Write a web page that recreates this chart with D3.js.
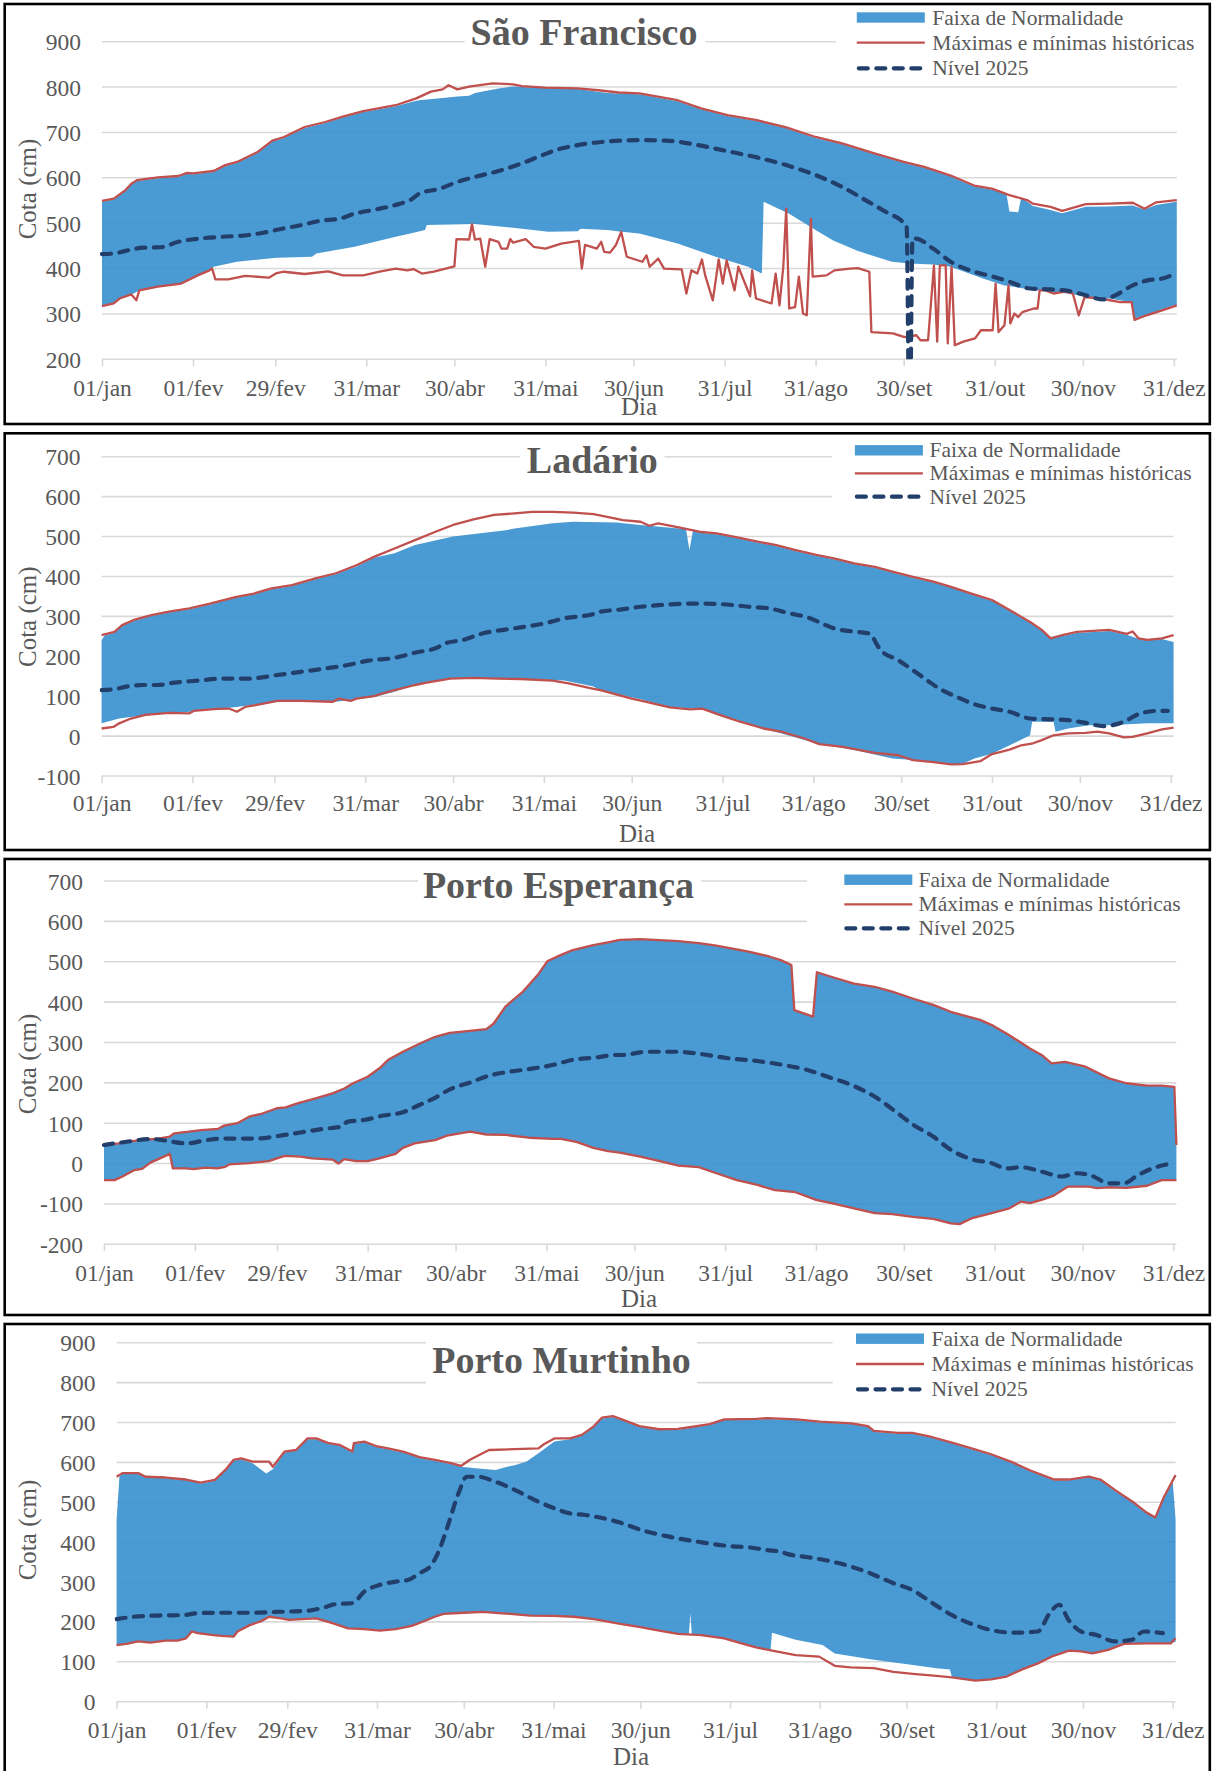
<!DOCTYPE html>
<html><head><meta charset="utf-8">
<script src="https://cdn.jsdelivr.net/npm/d3@7"></script>
<style>
body{margin:0;background:#fff}
svg{display:block}
text{font-family:"Liberation Serif","Times New Roman",serif}
</style>
</head><body>
<svg id="c" width="1213" height="1771"></svg>
<script>
// ---------- labels ----------
const xTickDays = [0,31,59,90,120,151,181,212,243,273,304,334,365];
const xTickLabels = ["01/jan","01/fev","29/fev","31/mar","30/abr","31/mai","30/jun","31/jul","31/ago","30/set","31/out","30/nov","31/dez"];
const stationNames = ["São Francisco","Ladário","Porto Esperança","Porto Murtinho"];
const legendLabels = ["Faixa de Normalidade","Máximas e mínimas históricas","Nível 2025"];
const yTitle = "Cota (cm)";
const xTitle = "Dia";
const yTicksSF = [200,300,400,500,600,700,800,900];
const yTicksLAD = [-100,0,100,200,300,400,500,600,700];
const yTicksPE = [-200,-100,0,100,200,300,400,500,600,700];
const yTicksPM = [0,100,200,300,400,500,600,700,800,900];

// ---------- São Francisco ([day, cm]) ----------
const sfMax = [[0,549],[4,554],[8,573],[10,587],[12,595],[19,601],[26,604],[29,611],[31,610],[38,615],[42,628],[46,635],[53,657],[58,682],[62,690],[69,712],[76,723],[82,735],[89,747],[100,760],[107,775],[112,790],[116,795],[118,804],[121,795],[125,801],[133,808],[140,806],[143,802],[151,799],[162,797],[169,793],[176,788],[183,786],[196,771],[204,753],[213,738],[223,727],[233,711],[243,690],[252,676],[263,654],[273,635],[280,624],[289,605],[297,583],[303,576],[309,562],[315,551],[317,543],[323,536],[327,527],[335,542],[343,543],[351,545],[355,532],[359,546],[366,551]];
const sfBandHigh = [[0,547],[4,552],[8,571],[10,585],[12,593],[19,599],[26,602],[29,609],[31,608],[38,613],[42,626],[46,633],[53,655],[58,680],[62,688],[69,710],[76,721],[82,733],[89,745],[100,758],[106,768],[108,771],[116,776],[121,779],[125,781],[127,787],[135,797],[140,801],[151,798],[162,796],[172,787],[183,784],[196,769],[204,751],[213,736],[223,725],[233,709],[243,688],[252,674],[263,652],[273,633],[280,622],[289,603],[297,581],[303,574],[308,564],[309,526],[312,524],[313,556],[315,548],[317,538],[323,529],[327,522],[335,536],[343,537],[351,539],[355,530],[359,540],[366,547]];
const sfBandLow = [[0,319],[4,323],[6,334],[10,343],[13,352],[19,360],[27,367],[33,385],[37,396],[38,404],[46,415],[59.5,424],[71.5,426],[73,433],[86,448],[100,470],[105,477],[110,485],[110.6,496],[127,498],[140,490],[152,481],[162,482],[163,488],[172,485],[177,481],[183,477],[196,455],[209,426],[220,404],[224.7,389],[225.3,547],[234,521],[243,485],[249,462],[257,440],[263,427],[269,415],[275,411],[283,409],[289,404],[300,378],[307,363],[316,354],[329,345],[336,337],[343,334],[350.6,326],[351.6,290],[356,299],[365,319],[366,320]];
const sfMin = [[0,317],[4,323],[6,334],[10,343],[11.7,330],[12.7,352],[19,360],[27,367],[32.6,385],[36.6,396],[37.5,400],[38.6,376],[43,376],[48.7,384],[56.8,380],[59.5,390],[62,393],[69,388],[77,394],[82,385],[89,385],[94.5,393],[100,400],[104,396],[106,399],[109,389],[113,393],[120,405],[120.7,465],[125,464],[126,498],[127,464],[128.8,466],[130.5,404],[132,465],[135,459],[136,444],[138,444],[139,465],[140,457],[144.3,465],[147,448],[151,444],[156.4,455],[162.4,461],[163.4,400],[164.5,452],[168.5,444],[170,459],[171,437],[173,435],[175,452],[176.8,481],[178.7,426],[184,415],[185.4,429],[186.5,404],[189.4,422],[191.4,400],[197.4,398],[199,345],[200.7,396],[202.7,389],[204.3,420],[205.4,385],[208,330],[210,420],[211.4,367],[212.7,418],[215.4,352],[216.7,404],[220.7,339],[221.4,396],[222.7,334],[228,323],[229.4,389],[230.7,319],[232,404],[233,532],[234,312],[236,315],[237.3,382],[238.7,301],[240,297],[241.4,510],[242,382],[246.7,385],[249.4,396],[254.7,400],[257.4,401],[261.3,393],[262,260],[269.3,257],[273.3,249],[277.3,253],[278.7,242],[281.3,242],[283.3,407],[284.4,239],[285.3,407],[287.3,407],[288,235],[289.3,404],[290.4,231],[293.3,239],[297.3,246],[299.3,264],[303.3,264],[304.3,367],[305.3,260],[307.3,275],[308.7,363],[309.3,279],[310.7,301],[312,293],[313.4,304],[317.3,312],[318.6,312],[319.3,352],[321.3,352],[324,345],[328,349],[330.6,345],[332.6,297],[334.6,337],[340,334],[346.7,326],[350.6,326],[351.6,287],[355.7,297],[361,308],[366,319]];
const sfLevel = [[0,432],[4,433],[8,439],[14,446],[20,447],[26,459],[33,466],[41,470],[50,474],[55,479],[60,486],[68,496],[74,505],[81,510],[86,521],[93,530],[101,542],[105,551],[108,565],[115,576],[121,591],[127,602],[135,615],[143,632],[150,650],[155,662],[162,672],[170,679],[183,683],[192,682],[203,672],[212,660],[223,645],[233,628],[243,606],[252,580],[261,547],[268,521],[272,507],[274,492],[275,0],[276,466],[277,466],[283,444],[289,415],[297,393],[303,383],[309,371],[316,356],[323,354],[329,351],[335,341],[341,332],[345,341],[351,363],[356,374],[361,378],[365,387]];

// ---------- Ladário ----------
const ladMax = [[0,253],[4.4,261],[7,278],[11,291],[17,303],[23,312],[30,320],[37,332],[46,349],[52,357],[58,370],[65,378],[73,395],[80,408],[87,428],[93,449],[100,470],[107,491],[114,512],[120,529],[127,543],[134,554],[141,558],[147,562],[154,562],[161,560],[168,556],[178,541],[184,537],[187,527],[190,533],[197,523],[204,512],[210,508],[217,498],[224,487],[230,479],[237,466],[244,454],[250,445],[257,433],[264,424],[270,412],[277,399],[284,387],[290,374],[297,357],[304,341],[310,316],[317,286],[321,266],[324,245],[328,253],[333,261],[344,266],[350,256],[352,262],[354,245],[357,241],[362,245],[366,253]];
const ladBandHigh = [[0,240],[1,252],[4.4,259],[7,276],[11,289],[17,301],[23,310],[30,318],[37,330],[46,347],[52,355],[58,368],[65,376],[73,393],[80,406],[87,425],[93,447],[100,458],[107,479],[120,500],[138,516],[141,520],[154,533],[161,537],[176,535],[178,533],[184,529],[197,520],[199.5,519],[200.7,466],[202,518],[204,510],[210,506],[217,496],[224,485],[230,477],[237,464],[244,452],[250,443],[257,431],[264,422],[270,410],[277,397],[284,385],[290,372],[297,355],[304,339],[310,314],[317,284],[321,264],[324,248],[328,251],[333,258],[344,263],[350,254],[354,244],[357,240],[362,243],[366,236]];
const ladBandLow = [[0,32],[6,44],[10,48],[19,55],[30,61],[46,73],[60,86],[80,86],[93,98],[100,111],[107,128],[120,144],[127,146],[141,144],[158,139],[168,124],[170,115],[184,92],[194,73],[206,67],[210,53],[224,23],[230,11],[244,-18],[257,-35],[270,-56],[277,-60],[290,-71],[294,-69],[298,-56],[304,-44],[310,-23],[317,2],[317.7,36],[325,36],[325.7,11],[330,19],[337,27],[344,27],[357,32],[366,32]];
const ladMin = [[0,19],[4,23],[6,32],[10,44],[15,53],[23,58],[30,57],[31.4,63],[39.5,68],[43.5,69],[46.2,61],[49,73],[53,78],[57,84],[60,88],[68,88],[79,86],[81,94],[85,88],[87,94],[93,100],[96,107],[100,115],[107,128],[111,134],[119,144],[127,146],[135,144],[143,143],[154,139],[159.5,132],[167.6,119],[170.3,115],[181,94],[186,86],[194,72],[201,67],[205,69],[213,48],[218,36],[226,19],[232,11],[240,-6],[245,-20],[253,-27],[264,-42],[272,-48],[277,-60],[284,-65],[290,-71],[294,-70],[300,-63],[304,-45],[310,-34],[314,-23],[318,-18],[321,-10],[325,2],[330,7],[336,8],[340,11],[344,7],[349,-3],[352,-2],[357,7],[362,17],[366,21]];
const ladLevel = [[0,115],[4,117],[8.5,124],[14,128],[19,128],[25,134],[33,139],[41,144],[50,144],[60,153],[68,161],[77,170],[84,178],[91,189],[100,196],[107,209],[114,220],[118,234],[123,240],[130,257],[141,270],[151,282],[158,295],[168,306],[170,311],[177,317],[184,324],[190,328],[201,332],[210,331],[216,328],[221,324],[228,320],[234,309],[242,295],[246,282],[250,270],[258,261],[262,257],[266,215],[272,190],[277,165],[282,139],[286,119],[292,98],[298,80],[304,69],[310,61],[317,44],[324,42],[330,40],[336,33],[342,25],[349,36],[354,55],[360,63],[364,63]];

// ---------- Porto Esperança ----------
const peMax = [[0,46],[5,50],[12,58],[18.5,62],[22.5,67],[24,75],[29,79],[33,83],[39,86],[41,94],[45.5,100],[49.5,116],[54,124],[59,137],[62,139],[66,149],[72.5,162],[78,174],[82,186],[85,199],[90,215],[94,236],[97,257],[102,277],[108,298],[113,314],[118,324],[124,328],[130.5,333],[133,347],[137,389],[143,426],[148,467],[151.4,502],[156,517],[160,529],[167,541],[172,548],[176,554],[183,556],[196,551],[203,546],[209,540],[220,525],[227,513],[231,504],[234.6,492],[235.6,380],[242,364],[243.3,474],[249,461],[256,446],[263,438],[269,426],[276,409],[283,393],[289,376],[293,368],[299,356],[303,343],[309,318],[316,285],[320,269],[323.4,248],[328,252],[335,240],[343,211],[349,199],[356,193],[361,193],[365.3,190],[366,46]];
const peMin = [[0,-41],[3.6,-41],[6.3,-32],[10.4,-16],[13,-13],[16,3],[18.5,11],[22.5,24],[23.5,-12],[28,-12],[30.6,-14],[34.7,-10],[38.7,-12],[41.4,-8],[42.8,-2],[49.5,1],[56.3,6],[59,13],[61.7,19],[67,17],[71,13],[78,10],[80,0],[82,11],[86,6],[90,6],[94,13],[99.5,24],[102,39],[106,50],[113,58],[117,69],[121,74],[125,79],[130.5,72],[137,71],[145,64],[153,61],[156,61],[161.5,53],[167,39],[172,31],[176,27],[183,17],[189,7],[196,-5],[203,-9],[209,-24],[216,-41],[223,-53],[229,-66],[236,-71],[243,-90],[249,-99],[256,-111],[263,-123],[269,-125],[276,-132],[283,-137],[289,-148],[292,-150],[296,-136],[303,-123],[309,-111],[313,-94],[316,-98],[320,-90],[324,-80],[329,-57],[336,-57],[339,-61],[343,-59],[349,-60],[356,-55],[361,-41],[366,-41]];
const peBandHigh = peMax;
const peBandLow = peMin;
const peLevel = [[0,46],[7.7,54],[16,61],[21,57],[28,50],[35,58],[41,62],[52,62],[60,69],[67,77],[75,86],[80.6,91],[83.3,104],[88.7,108],[95.4,119],[102,127],[107.6,145],[113,163],[118.4,185],[125,201],[132,219],[137,226],[145,234],[153,244],[160,257],[167,262],[175,269],[177,269],[185,277],[196,277],[204,271],[213,261],[223,254],[232,244],[240,232],[247,215],[255,195],[263,166],[271,124],[276,97],[283,67],[289,34],[296,11],[303,1],[308,-12],[313,-9],[320,-20],[327,-32],[332,-24],[337,-30],[343,-49],[348,-49],[353,-28],[359,-9],[365,1]];

// ---------- Porto Murtinho ----------
const pmMax = [[0,564],[2,573],[7.5,573],[10,564],[17,562],[24,557],[29,549],[34,556],[37.6,581],[40.4,606],[43,610],[47,602],[52.7,602],[54,589],[58,627],[62,631],[66,660],[69,660],[73,649],[77,644],[81.5,627],[82,648],[85.6,652],[89.7,641],[93.8,635],[99,627],[104.7,613],[110,606],[115.6,598],[119,591],[122,606],[126.5,623],[128.7,631],[137.6,633],[145.8,635],[147.8,646],[151.3,660],[156.7,660],[160.8,669],[165,691],[167.7,712],[171.5,716],[175.3,706],[180.7,691],[187.5,683],[194,684],[198,688],[205,696],[210,708],[221,709],[225,711],[235,708],[243,702],[254,698],[259.7,691],[261.7,679],[270,674],[275,674],[282,663],[289,649],[295.5,635],[302,621],[309,602],[316,579],[320,568],[324,557],[329,557],[336,564],[340,557],[345,531],[351,502],[356,474],[359,462],[362,514],[366,568]];
const pmBandHigh = [[0,456],[1,566],[2,571],[7.5,571],[10,562],[17,560],[24,555],[29,547],[34,554],[37.6,579],[40.4,604],[43,608],[47,598],[51.7,572],[54,583],[58,625],[62,629],[66,658],[69,658],[73,647],[77,642],[81.5,625],[82,646],[85.6,650],[89.7,639],[93.8,633],[99,625],[104.7,611],[110,604],[115.6,596],[119,589],[124,585],[131,581],[135,589],[137.6,593],[141.7,602],[145.8,623],[151.3,652],[156.7,658],[160.8,667],[165,689],[167.7,710],[171.5,714],[175.3,704],[180.7,689],[187.5,681],[194,682],[198,686],[205,694],[210,706],[221,707],[225,709],[235,706],[243,700],[254,696],[259.7,689],[261.7,677],[270,672],[275,672],[282,661],[289,647],[295.5,633],[302,619],[309,600],[316,577],[320,566],[324,555],[329,555],[336,562],[340,555],[345,529],[351,500],[356,472],[359,462],[362,510],[365,552],[366,456]];
const pmBandLow = [[0,142],[3.4,145],[7.5,151],[11.6,148],[17,153],[21,153],[24,159],[26,176],[28,172],[33.5,167],[36.3,165],[40.4,163],[41.8,176],[46,192],[50,202],[52.7,213],[56.8,209],[59.5,205],[69,209],[74.6,197],[80,184],[85.6,182],[91,178],[96.5,182],[102,190],[106,201],[110,213],[113,220],[120,223],[126.6,225],[132,222],[136,220],[143,216],[151,215],[158,213],[165,207],[174,195],[181,187],[187.5,178],[194,170],[197.8,169],[198.3,222],[198.8,168],[202,167],[210,159],[216,146],[221,136],[226,128],[226.5,173],[234.7,155],[244,142],[248.2,121],[261.7,105],[275.2,92],[283.3,84],[288,81],[288.7,61],[296.8,53],[302.2,56],[307.6,63],[313,81],[318.4,96],[323.8,115],[329.2,128],[333.3,126],[337.3,121],[342.7,130],[348.1,145],[356.2,146],[364.3,146],[366,150]];
const pmMin = [[0,142],[3.4,145],[7.5,151],[11.6,148],[17,153],[21,153],[24,159],[26,176],[28,172],[33.5,167],[36.3,165],[40.4,163],[41.8,176],[46,192],[50,202],[52.7,213],[56.8,209],[59.5,205],[69,209],[74.6,197],[80,184],[85.6,182],[91,178],[96.5,182],[102,190],[106,201],[110,213],[113,220],[120,223],[126.6,225],[132,222],[136,220],[143,216],[151,215],[158,213],[165,207],[174,195],[181,187],[187.5,178],[194,170],[202,167],[210,159],[216,146],[221,136],[226.6,128],[234.7,117],[242.8,113],[248.2,90],[253.6,86],[261.7,84],[268.5,75],[275.2,70],[283.3,65],[288.7,61],[296.8,53],[302.2,56],[307.6,63],[313,81],[318.4,96],[323.8,115],[329.2,128],[333.3,126],[337.3,121],[342.7,130],[348.1,145],[356.2,146],[364.3,146],[366,159]];
const pmLevel = [[0,207],[6,213],[14,216],[23,217],[28,222],[36,223],[47,223],[55,225],[66,228],[72,237],[76,245],[81.5,247],[85.6,276],[91,293],[96.5,301],[100.6,305],[104.7,322],[108.8,343],[111.5,380],[114.2,435],[118.4,527],[121,564],[125,564],[130.7,552],[137.6,531],[144.4,506],[151.3,485],[156.7,472],[162,468],[167.5,461],[174,449],[180.7,432],[190,415],[201,401],[212,390],[218.5,387],[225,380],[229.4,376],[232,370],[239,362],[245.5,354],[253.6,339],[260.4,322],[268.5,297],[275,280],[282,247],[288.7,217],[295.5,195],[302,180],[310,173],[318.4,176],[322.5,222],[325.8,243],[329,205],[333.3,176],[338.7,167],[345,151],[350.8,155],[355,176],[361.6,172]];

// ---------- styles ----------
const BAND = "#368fcf", RED = "#c0504d", NAVY = "#223f6b", GRID = "#d9d9d9", TXT = "#595959";

const panels = [
  {name:stationNames[0], max:sfMax, min:sfMin, hi:sfBandHigh, lo:sfBandLow, lev:sfLevel, yt:yTicksSF,
   fr:[4.7,4,1205.1,420], x0:102, x1:1176.8, yT:41.7, yB:359.3,
   tX:584, tY:45, tBox:[464.6,705.5],
   lg:{bg:835.7, sx:856.8, tx:932.3, rows:[17.5,42.7,68.3]}, ytY:189, dX:639, dY:415, xlOff:36.5},
  {name:stationNames[1], max:ladMax, min:ladMin, hi:ladBandHigh, lo:ladBandLow, lev:ladLevel, yt:yTicksLAD,
   fr:[4.7,433.3,1205.2,416.7], x0:101.6, x1:1173.6, yT:456.7, yB:776,
   tX:592.3, tY:472.7, tBox:[520,664.5],
   lg:{bg:831.8, sx:854.9, tx:929.6, rows:[450.3,473.3,496.7]}, ytY:616.7, dX:637, dY:842, xlOff:35.2},
  {name:stationNames[2], max:peMax, min:peMin, hi:peBandHigh, lo:peBandLow, lev:peLevel, yt:yTicksPE,
   fr:[4.7,859,1205.1,456], x0:104, x1:1176.4, yT:881, yB:1244.3,
   tX:558.5, tY:897.7, tBox:[418,700.9],
   lg:{bg:807, sx:844.3, tx:918.6, rows:[879.7,904.3,928.3]}, ytY:1064, dX:639, dY:1307, xlOff:36.8},
  {name:stationNames[3], max:pmMax, min:pmMin, hi:pmBandHigh, lo:pmBandLow, lev:pmLevel, yt:yTicksPM,
   fr:[4.7,1324,1205.1,452], x0:116.6, x1:1175.6, yT:1342.7, yB:1701.7,
   tX:561.5, tY:1373.3, tBox:[426,697],
   lg:{bg:832.6, sx:856, tx:931.5, rows:[1338.7,1364,1389.3]}, ytY:1530, dX:631, dY:1765, xlOff:36.2}
];

const svg = d3.select("#c");
svg.append("rect").attr("width",1213).attr("height",1771).attr("fill","#fff");

panels.forEach((p, i) => {
  const g = svg.append("g");
  const x = d3.scaleLinear().domain([0,366]).range([p.x0, p.x1]);
  const y = d3.scaleLinear().domain([d3.min(p.yt), d3.max(p.yt)]).range([p.yB, p.yT]);

  const clipId = "clip" + i;
  svg.append("clipPath").attr("id", clipId).append("rect")
    .attr("x", p.x0 - 2).attr("y", p.fr[1]).attr("width", p.x1 - p.x0 + 4).attr("height", p.yB - p.fr[1]);

  // gridlines
  g.append("g").selectAll("line").data(p.yt).join("line")
    .attr("x1", x(0)).attr("x2", x(366))
    .attr("y1", d => y(d)).attr("y2", d => y(d))
    .attr("stroke", GRID).attr("stroke-width", 1.6);

  // x axis (ticks + labels)
  const xa = g.append("g").attr("transform", `translate(0,${p.yB})`)
    .call(d3.axisBottom(x).tickValues(xTickDays).tickFormat((d, k) => xTickLabels[k]).tickSize(7));
  xa.select(".domain").remove();
  xa.selectAll(".tick line").attr("stroke", GRID).attr("stroke-width", 1.6);
  xa.selectAll(".tick text").attr("y", p.xlOff).attr("dy", 0)
    .attr("fill", TXT).style("font-size", "23.5px").style("font-family", '"Liberation Serif",serif');

  // y axis labels (plain hyphen for negatives, as in the original)
  const ya = g.append("g").attr("transform", `translate(${p.x0},0)`)
    .call(d3.axisLeft(y).tickValues(p.yt).tickSize(0).tickPadding(21).tickFormat(d => String(d)));
  ya.select(".domain").remove();
  ya.selectAll(".tick text").attr("fill", TXT).attr("dy", "0.34em")
    .style("font-size", "23.5px").style("font-family", '"Liberation Serif",serif');

  // band
  const poly = p.hi.concat(p.lo.slice().reverse());
  const lineGen = d3.line().x(d => x(d[0])).y(d => y(d[1]));
  g.append("path").attr("d", lineGen(poly) + "Z")
    .attr("fill", BAND).attr("fill-opacity", 0.9).attr("clip-path", `url(#${clipId})`);

  // historic lines
  [p.max, p.min].forEach(s => {
    g.append("path").attr("d", lineGen(s)).attr("fill", "none")
      .attr("stroke", RED).attr("stroke-width", 2.3).attr("stroke-linejoin", "round")
      .attr("clip-path", `url(#${clipId})`);
  });

  // level 2025
  const levGen = d3.line().x(d => x(d[0])).y(d => y(d[1])).curve(d3.curveMonotoneX);
  g.append("path").attr("d", levGen(p.lev)).attr("fill", "none")
    .attr("stroke", NAVY).attr("stroke-width", 4.2).attr("stroke-dasharray", "9,8.5")
    .attr("stroke-linecap", "round").attr("clip-path", `url(#${clipId})`);

  // title
  g.append("rect").attr("x", p.tBox[0]).attr("y", p.tY - 36).attr("width", p.tBox[1] - p.tBox[0]).attr("height", 48).attr("fill", "#fff");
  g.append("text").attr("x", p.tX).attr("y", p.tY).attr("text-anchor", "middle")
    .attr("fill", TXT).style("font-size", "38px").style("font-weight", "bold").text(p.name);

  // legend
  const L = p.lg;
  g.append("rect").attr("x", L.bg).attr("y", p.fr[1] + 3).attr("width", x(366) + 2 - L.bg)
    .attr("height", L.rows[2] + 11 - (p.fr[1] + 3)).attr("fill", "#fff");
  g.append("rect").attr("x", L.sx).attr("y", L.rows[0] - 5.2).attr("width", 68).attr("height", 10.4).attr("fill", BAND).attr("fill-opacity", 0.9);
  g.append("line").attr("x1", L.sx).attr("x2", L.sx + 68).attr("y1", L.rows[1]).attr("y2", L.rows[1])
    .attr("stroke", RED).attr("stroke-width", 2.3);
  g.append("line").attr("x1", L.sx + 2).attr("x2", L.sx + 66).attr("y1", L.rows[2]).attr("y2", L.rows[2])
    .attr("stroke", NAVY).attr("stroke-width", 4.2).attr("stroke-dasharray", "9,8.5").attr("stroke-linecap", "round");
  legendLabels.forEach((t, k) => {
    g.append("text").attr("x", L.tx).attr("y", L.rows[k]).attr("dy", "0.33em")
      .attr("fill", TXT).style("font-size", "21.5px").text(t);
  });

  // axis titles
  g.append("text").attr("transform", `translate(27,${p.ytY}) rotate(-90)`).attr("dy", "0.34em")
    .attr("text-anchor", "middle").attr("fill", TXT).style("font-size", "25px").text(yTitle);
  g.append("text").attr("x", p.dX).attr("y", p.dY).attr("text-anchor", "middle")
    .attr("fill", TXT).style("font-size", "25px").text(xTitle);

  // frame
  g.append("rect").attr("x", p.fr[0]).attr("y", p.fr[1]).attr("width", p.fr[2]).attr("height", p.fr[3])
    .attr("fill", "none").attr("stroke", "#000").attr("stroke-width", 2.6);
});
</script>
</body></html>
